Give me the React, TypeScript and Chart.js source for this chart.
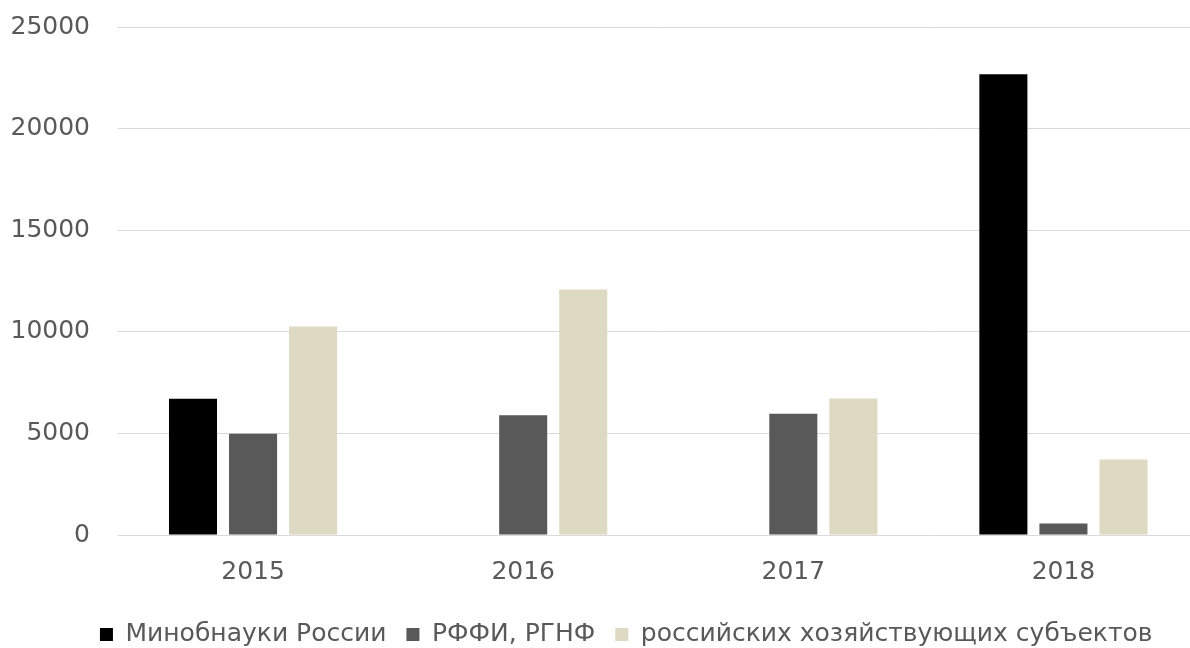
import React, { useEffect, useRef } from "react";
import { Chart, registerables } from "chart.js";

Chart.register(...registerables);

const years = ["2015", "2016", "2017", "2018"];
const seriesNames = ["Минобнауки России", "РФФИ, РГНФ", "российских хозяйствующих субъектов"];
const ministry = [6700, null, null, 22680];
const rffi = [4980, 5890, 5970, 570];
const subjects = [10260, 12080, 6720, 3720];
const yMax = 25000;
const yStep = 5000;

const colors = ["#000000", "#595959", "#DDD9C3"];

const legendShift = {
  id: "legendShift",
  afterLayout(chart: any) {
    const l = chart.legend;
    if (l) {
      l.left += 27;
      l.right += 27;
    }
  },
};

export default function App() {
  const ref = useRef<HTMLCanvasElement | null>(null);
  useEffect(() => {
    if (!ref.current) return;
    const font = "'DejaVu Sans', sans-serif";
    const chart = new Chart(ref.current, {
      type: "bar",
      data: {
        labels: years,
        datasets: [ministry, rffi, subjects].map((d, i) => ({
          label: seriesNames[i],
          data: d,
          backgroundColor: colors[i],
          borderWidth: 0,
          categoryPercentage: 0.667,
          barPercentage: 0.8,
        })),
      },
      plugins: [legendShift],
      options: {
        responsive: false,
        animation: false,
        devicePixelRatio: 1,
        layout: { padding: { top: 27, left: 0, right: 1.5, bottom: 0 } },
        plugins: {
          tooltip: { enabled: false },
          legend: {
            position: "bottom",
            labels: {
              boxWidth: 13,
              boxHeight: 13,
              padding: 20,
              color: "#595959",
              font: { family: font, size: 25 },
            },
          },
        },
        scales: {
          x: {
            grid: { display: false, drawTicks: false },
            border: { display: false },
            ticks: { color: "#595959", font: { family: font, size: 25 }, padding: 22 },
            afterFit: (s: any) => {
              s.height = 67;
            },
          },
          y: {
            min: 0,
            max: yMax,
            grid: {
              color: "#d9d9d9",
              lineWidth: 1,
              drawTicks: true,
              tickLength: 28,
              tickColor: "rgba(0,0,0,0)",
            },
            border: { display: false },
            ticks: {
              stepSize: yStep,
              color: "#595959",
              font: { family: font, size: 25 },
              padding: 0,
              callback: (v: any) => String(v),
            },
            afterFit: (s: any) => {
              s.width = 118;
            },
          },
        },
      },
    });
    return () => chart.destroy();
  }, []);
  return (
    <div style={{ position: "fixed", left: 0, top: 0, width: 1200, height: 657, background: "#fff" }}>
      <canvas ref={ref} width={1200} height={657} />
    </div>
  );
}
